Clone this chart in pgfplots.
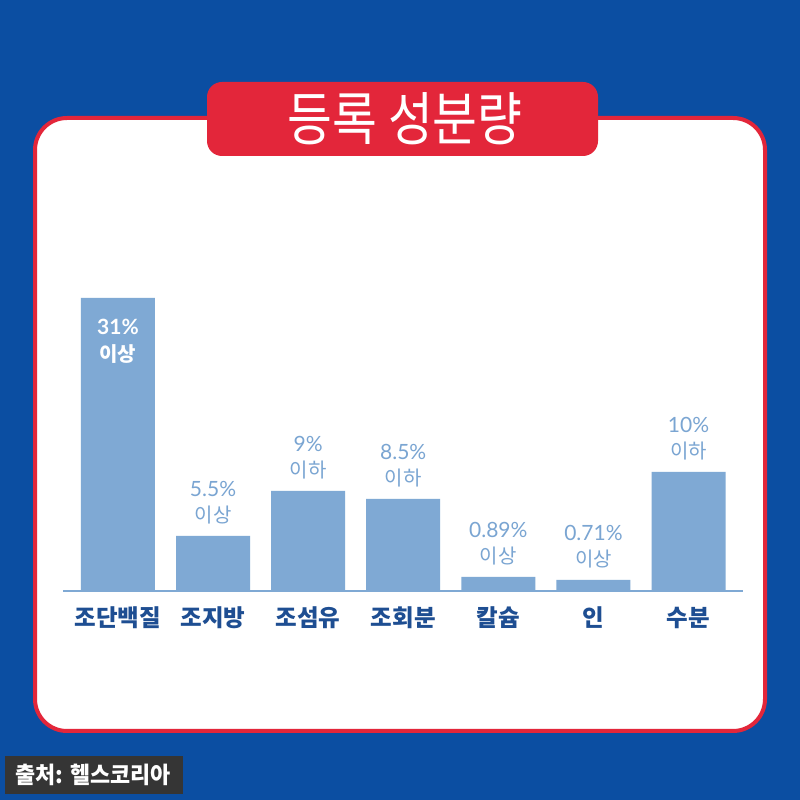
\documentclass[border=0pt]{standalone}
\usepackage{pgfplots}
\pgfplotsset{compat=1.18}
\usepackage{pgfplotstable}
\usepackage{fontspec}
\setmainfont{Noto Sans CJK KR}
\newfontfamily\latofont{Lato}
\definecolor{bgblue}{HTML}{0B4EA2}
\definecolor{redbox}{HTML}{E3263A}
\definecolor{barblue}{HTML}{7FA9D4}
\definecolor{lblblue}{HTML}{7AA5D2}
\definecolor{darkblue}{HTML}{1E4E92}
\definecolor{srcgray}{HTML}{353535}
% bar heights as drawn (picture units); labels give the registered values
\pgfplotstableread{
x h
0 293
1 55
2 100
3 92
4 14
5 11
6 119
}\bars
\newcommand{\numfont}{\latofont\fontsize{21}{24}\selectfont}
\newcommand{\krfontlbl}{\fontsize{20}{24}\selectfont}
\newcommand{\lbl}[4]{%
  \node[anchor=center, inner sep=0pt, text=lblblue, yshift=47.5pt] at (axis cs:#1,#2) {\numfont #3};
  \node[anchor=center, inner sep=0pt, text=lblblue, yshift=21pt] at (axis cs:#1,#2) {\krfontlbl #4};
}
\begin{document}
\begin{tikzpicture}[x=1pt,y=1pt]
\useasboundingbox (0,0) rectangle (800,800);
\fill[bgblue] (0,0) rectangle (800,800);
\filldraw[fill=white, draw=redbox, line width=4pt, rounded corners=32pt] (35,69) rectangle (765,682);
\fill[redbox, rounded corners=15pt] (207,644) rectangle (598,718);
\node[text=white, inner sep=0pt, font=\fontsize{58}{62}\selectfont, xscale=0.84] at (405,681) {등록 성분량};
\fill[srcgray] (5,6) rectangle (183,44);
\node[text=white, inner sep=0pt, font=\bfseries\fontsize{23}{26}\selectfont, xscale=0.95] at (93,25) {출처: 헬스코리아};
\begin{axis}[
  at={(63pt,209pt)}, anchor=south west,
  scale only axis, width=680pt, height=300pt,
  xmin=-0.578, xmax=6.573, ymin=0, ymax=300,
  axis x line*=bottom, axis y line=none,
  axis line style={barblue, line width=1.8pt, -},
  xtick={0,1,2,3,4,5,6},
  xticklabels={조단백질,조지방,조섬유,조회분,칼슘,인,수분},
  major tick length=0pt,
  xticklabel style={anchor=center, inner sep=0pt, yshift=-27pt, text=darkblue, font=\bfseries\fontsize{23.5}{26}\selectfont},
  clip=false,
  ybar, bar width=74pt, bar shift=0pt,
]
\addplot[fill=barblue, draw=none] table[x=x, y=h] {\bars};
\node[anchor=center, inner sep=0pt, text=white, yshift=-28.5pt] at (axis cs:0,293) {\latofont\bfseries\fontsize{21}{24}\selectfont 31\%};
\node[anchor=center, inner sep=0pt, text=white, yshift=-56pt] at (axis cs:0,293) {\bfseries\fontsize{20}{24}\selectfont 이상};
\lbl{1}{55}{5.5\%}{이상}
\lbl{2}{100}{9\%}{이하}
\lbl{3}{92}{8.5\%}{이하}
\lbl{4}{14}{0.89\%}{이상}
\lbl{5}{11}{0.71\%}{이상}
\lbl{6}{119}{10\%}{이하}
\end{axis}
\end{tikzpicture}
\end{document}
